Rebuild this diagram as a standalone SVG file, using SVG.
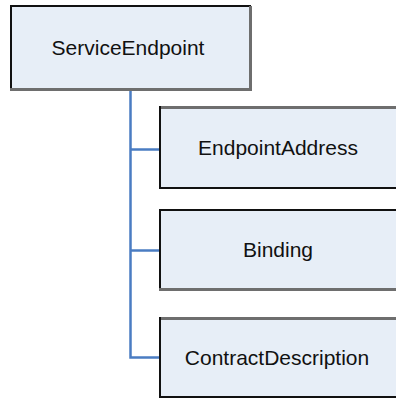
<svg xmlns="http://www.w3.org/2000/svg" width="396" height="398" viewBox="0 0 396 398">
  <style>
    .fill { fill: #e7eef7; }
    .dark { stroke: #111111; stroke-width: 2; fill: none; }
    .grey { stroke: #6e6e6e; stroke-width: 3; fill: none; }
    .label { font-family: "Liberation Sans", Arial, sans-serif; font-size: 21px; fill: #111111; text-anchor: middle; }
    .link { stroke: #4a7cc2; stroke-width: 2.5; fill: none; }
  </style>
  <rect width="396" height="398" fill="#ffffff"/>

  <!-- tree connectors -->
  <g id="connectors">
    <path class="link" d="M130.5 90 V357.5 H160"/>
    <path class="link" d="M130.5 149.5 H160"/>
    <path class="link" d="M130.5 250.5 H160"/>
  </g>

  <g id="service-endpoint">
    <rect class="fill" x="11" y="6" width="240" height="83"/>
    <path class="dark" d="M11 89 V6 H251"/>
    <path class="grey" d="M250.5 6 V89"/>
    <path class="grey" d="M10 89.5 H252"/>
    <text class="label" x="128" y="55">ServiceEndpoint</text>
  </g>

  <g id="endpoint-address">
    <rect class="fill" x="160" y="107" width="240" height="81"/>
    <path class="grey" d="M159 107.5 H400"/>
    <path class="dark" d="M160 106 V188 H400"/>
    <text class="label" x="278" y="155">EndpointAddress</text>
  </g>

  <g id="binding">
    <rect class="fill" x="160" y="210" width="240" height="79"/>
    <path class="dark" d="M160 291 V210 H400"/>
    <path class="grey" d="M159 289.5 H400"/>
    <text class="label" x="278" y="257">Binding</text>
  </g>

  <g id="contract-description">
    <rect class="fill" x="160" y="318" width="240" height="79"/>
    <path class="grey" d="M159 318.5 H400"/>
    <path class="dark" d="M160 317 V397 H400"/>
    <text class="label" x="277" y="365">ContractDescription</text>
  </g>
</svg>
